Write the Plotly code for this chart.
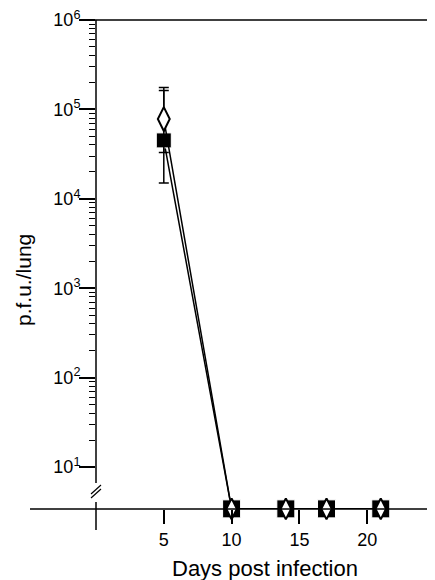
import plotly.graph_objects as go
import numpy as np

# ---- data ----
days = [5, 10, 14, 17, 21]
floor_value = 3.4  # plotted on the broken-axis baseline (below detection)
square_pfu = [4.5e4, floor_value, floor_value, floor_value, floor_value]
square_err_up = [1.76e5 - 4.5e4, 0, 0, 0, 0]
square_err_down = [4.5e4 - 1.5e4, 0, 0, 0, 0]
diamond_pfu = [7.8e4, floor_value, floor_value, floor_value, floor_value]
diamond_err_up = [1.63e5 - 7.8e4, 0, 0, 0, 0]
diamond_err_down = [7.8e4 - 3.3e4, 0, 0, 0, 0]

x_ticks = [5, 10, 15, 20]
y_tick_exps = [1, 2, 3, 4, 5, 6]

# ---- geometry helpers (page pixel -> paper); page has 8px body margin ----
OFF = 8
W, H = 427, 572
L, R, T, B = 88, 0, 12, 71
PW, PH = W - L - R, H - T - B


def px(xp):
    return (xp - OFF - L) / PW


def py(yp):
    return (H - B - (yp - OFF)) / PH


fig = go.Figure()

fig.add_trace(go.Scatter(
    x=days, y=square_pfu, mode="lines+markers",
    line=dict(color="black", width=1.5),
    marker=dict(symbol="square", size=[15, 18, 18, 18, 18], color="black", opacity=1),
    error_y=dict(type="data", array=square_err_up, arrayminus=square_err_down,
                 color="black", thickness=1.5, width=5),
    cliponaxis=False, showlegend=False,
))
fig.add_trace(go.Scatter(
    x=days, y=diamond_pfu, mode="lines+markers",
    line=dict(color="black", width=1.5),
    marker=dict(symbol="diamond-tall", size=[17, 15, 15, 15, 15], color="white", opacity=1,
                line=dict(color="black", width=2)),
    error_y=dict(type="data", array=diamond_err_up, arrayminus=diamond_err_down,
                 color="black", thickness=1.5, width=5),
    cliponaxis=False, showlegend=False,
))

minor_vals = [m * 10 ** e for e in range(1, 6) for m in range(2, 10)]

fig.update_layout(
    width=W, height=H,
    margin=dict(l=L, r=R, t=T, b=B),
    paper_bgcolor="white", plot_bgcolor="white",
    font=dict(family="Liberation Sans, Arial, sans-serif", color="black"),
    xaxis=dict(
        range=[0, 25], showgrid=False, zeroline=False, showline=False,
        tickmode="array", tickvals=x_ticks, ticktext=[str(v) for v in x_ticks],
        ticks="outside", ticklen=14, tickwidth=1.5, tickcolor="black",
        tickfont=dict(size=18),
    ),
    yaxis=dict(
        type="log", range=[0.53, 6],
        showgrid=False, zeroline=False, showline=False,
        tickmode="array", tickvals=[10 ** e for e in y_tick_exps],
        ticktext=[f"10<sup>{e}</sup>" for e in y_tick_exps],
        ticks="outside", ticklen=16, tickwidth=1.5, tickcolor="black",
        tickfont=dict(size=18), ticklabelstandoff=-5,
        ticklabeloverflow="allow",
        minor=dict(tickmode="array", tickvals=minor_vals, ticks="outside",
                   ticklen=6, tickwidth=1.2, tickcolor="black", showgrid=False),
    ),
)

line_k = dict(color="black", width=1.5)
shapes = [
    # x axis (baseline) extended left
    dict(type="line", xref="paper", yref="paper", x0=px(30), x1=1, y0=0, y1=0, line=line_k),
    # top line
    dict(type="line", xref="paper", yref="paper", x0=px(80), x1=1, y0=1, y1=1, line=line_k),
    # y axis upper segment
    dict(type="line", xref="paper", yref="paper", x0=0, x1=0, y0=py(483), y1=1, line=line_k),
    # y axis lower segment
    dict(type="line", xref="paper", yref="paper", x0=0, x1=0, y0=py(530), y1=py(502), line=line_k),
    # break marks
    dict(type="line", xref="paper", yref="paper", x0=px(91), x1=px(101), y0=py(494), y1=py(485),
         line=dict(color="black", width=1.2)),
    dict(type="line", xref="paper", yref="paper", x0=px(91), x1=px(101), y0=py(498), y1=py(489),
         line=dict(color="black", width=1.2)),
    # right partial border
    dict(type="line", xref="paper", yref="paper", x0=px(434), x1=px(434), y0=py(520), y1=py(340),
         line=dict(color="#555555", width=1)),
]
fig.update_layout(shapes=shapes)

fig.add_annotation(text="Days post infection", xref="paper", yref="paper",
                   x=px(265), y=py(568), xanchor="center", yanchor="middle",
                   showarrow=False, font=dict(size=22))
fig.add_annotation(text="p.f.u./lung", xref="paper", yref="paper",
                   x=px(23), y=py(280), xanchor="center", yanchor="middle",
                   textangle=-90, showarrow=False, font=dict(size=21))

fig.write_html("out.html")
